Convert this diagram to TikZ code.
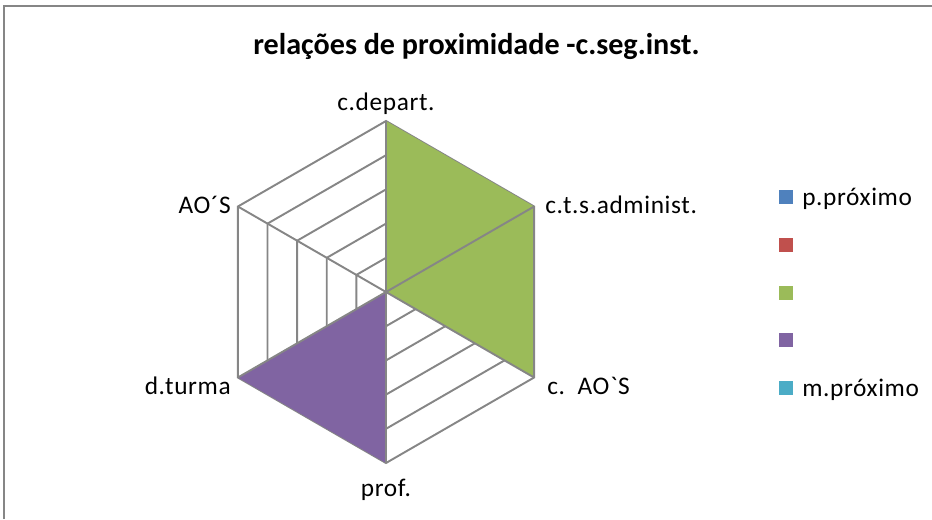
\documentclass[tikz,border=0pt]{standalone}
\usepackage{fontspec}
\setmainfont{Carlito}
\newfontfamily\chartfont{Carlito}[LetterSpace=2.5]
\definecolor{gridgray}{RGB}{134,134,134}
\definecolor{serblue}{RGB}{79,129,189}
\definecolor{serred}{RGB}{192,80,77}
\definecolor{sergreen}{RGB}{155,187,89}
\definecolor{serpurple}{RGB}{128,100,162}
\definecolor{serteal}{RGB}{75,172,198}
\tikzset{
  ring/.style={draw=gridgray, line width=1.45pt, line join=miter},
  spoke/.style={draw=gridgray, line width=1.45pt},
  axislabel/.style={inner sep=0.75pt, font=\chartfont\fontsize{19}{22}\selectfont},
  legendbox/.style={minimum size=10.2pt, inner sep=0pt},
}
\begin{document}
\begin{tikzpicture}[x=0.75pt,y=0.75pt,yscale=-1,xscale=1]
\useasboundingbox (0,0) rectangle (932,519);

%Chart frame
\draw [color=gridgray, line width=1.5] (4,519) -- (4,6) -- (932,6) ;

%Vertices of the hexagon
\coordinate (ctr) at (386,292) ;
\coordinate (vtop) at (386,121) ;
\coordinate (vur) at (534.09,206.5) ;
\coordinate (vlr) at (534.09,377.5) ;
\coordinate (vbot) at (386,463) ;
\coordinate (vll) at (237.91,377.5) ;
\coordinate (vul) at (237.91,206.5) ;

%Shape: Regular Polygon [ring 1]
\draw [ring] (386,257.8) -- (415.62,274.9) -- (415.62,309.1) -- (386,326.2) -- (356.38,309.1) -- (356.38,274.9) -- cycle ;
%Shape: Regular Polygon [ring 2]
\draw [ring] (386,223.6) -- (445.24,257.8) -- (445.24,326.2) -- (386,360.4) -- (326.76,326.2) -- (326.76,257.8) -- cycle ;
%Shape: Regular Polygon [ring 3]
\draw [ring] (386,189.4) -- (474.85,240.7) -- (474.85,343.3) -- (386,394.6) -- (297.15,343.3) -- (297.15,240.7) -- cycle ;
%Shape: Regular Polygon [ring 4]
\draw [ring] (386,155.2) -- (504.47,223.6) -- (504.47,360.4) -- (386,428.8) -- (267.53,360.4) -- (267.53,223.6) -- cycle ;
%Shape: Regular Polygon [ring 5]
\draw [ring] (vtop) -- (vur) -- (vlr) -- (vbot) -- (vll) -- (vul) -- cycle ;

%Shape: Polygon [series 3]
\fill [sergreen] (ctr) -- (vtop) -- (vur) -- (vlr) -- cycle ;
%Shape: Polygon [series 4]
\fill [serpurple] (ctr) -- (vbot) -- (vll) -- cycle ;

%Straight Lines [spokes]
\draw [spoke] (ctr) -- (vur) ;
\draw [spoke] (ctr) -- (vlr) ;
\draw [spoke] (ctr) -- (vbot) ;
\draw [spoke] (ctr) -- (vll) ;
\draw [spoke] (ctr) -- (vul) ;
\draw [spoke] (vur) -- (vlr) ;
\draw [color=gridgray, line width=2.1] (ctr) -- (vtop) ;

% Text Node
\draw (476.5,46) node (title) [inner sep=0.75pt, font=\bfseries\fontsize{22.6}{26}\selectfont] {relações de proximidade -c.seg.inst.};
% Text Node
\draw (386,116) node (lbltop) [anchor=south, axislabel] {c.depart.};
% Text Node
\draw (544,205) node (lblur) [anchor=west, axislabel] {c.t.s.administ.};
% Text Node
\draw (546,386) node (lbllr) [anchor=west, axislabel] {c.\ \ AO`S};
% Text Node
\draw (386,478) node (lblbot) [anchor=north, axislabel] {prof.};
% Text Node
\draw (232,386) node (lblll) [anchor=east, axislabel] {d.turma};
% Text Node
\draw (232,205) node (lblul) [anchor=east, axislabel] {AO´S};

%Legend
\draw (786,197) node (keyone) [legendbox, fill=serblue] {};
\draw (786,245) node (keytwo) [legendbox, fill=serred] {};
\draw (786,293) node (keythree) [legendbox, fill=sergreen] {};
\draw (786,340) node (keyfour) [legendbox, fill=serpurple] {};
\draw (786,388) node (keyfive) [legendbox, fill=serteal] {};
% Text Node
\draw (801,199) node (txtone) [anchor=west, axislabel] {p.próximo};
% Text Node
\draw (801,390) node (txtfive) [anchor=west, axislabel] {m.próximo};

\end{tikzpicture}
\end{document}
